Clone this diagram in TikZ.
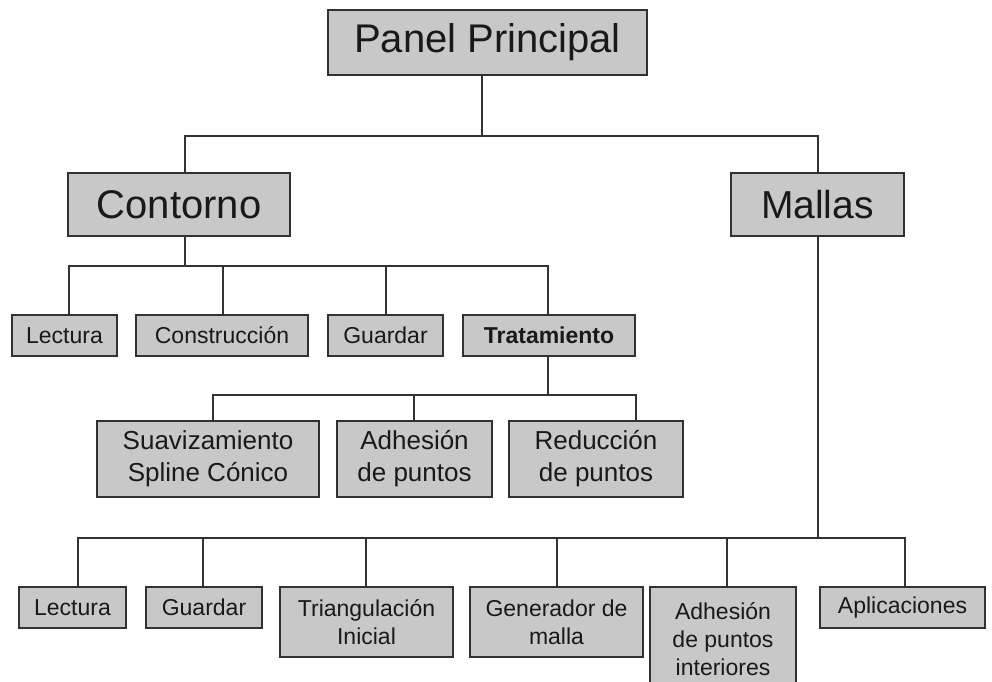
\documentclass[tikz,border=0pt]{standalone}
\usepackage{fontspec}
\setmainfont{Liberation Sans}
\definecolor{boxfill}{RGB}{200,200,200}
\definecolor{boxline}{RGB}{50,50,50}
\definecolor{txt}{RGB}{25,25,25}
\begin{document}
\begin{tikzpicture}[x=1pt,y=-1pt,
  box/.style={draw=boxline,fill=boxfill,line width=1.6pt,inner sep=0pt,align=center,text=txt},
  big/.style={box,font=\fontsize{40}{46}\selectfont},
  small/.style={box,minimum height=41pt,font=\fontsize{23}{28}\selectfont},
  mid/.style={box,minimum height=76pt,font=\fontsize{26}{32}\selectfont},
  low/.style={box,font=\fontsize{23}{28}\selectfont},
  conn/.style={draw=boxline,line width=1.6pt}]
\useasboundingbox (0,0) rectangle (992,681);
% top level
\node[big,minimum width=319pt,minimum height=65pt] (pp) at (487.5,42.5) {Panel Principal};
\node[big,minimum width=222pt,minimum height=63pt] (contorno) at (179,204.5) {Contorno};
\node[big,minimum width=173pt,minimum height=63pt,font=\fontsize{39}{46}\selectfont] (mallas) at (817.5,204.5) {Mallas};
% contorno children
\node[small,minimum width=105pt] (lect1) at (64.5,335.5) {Lectura};
\node[small,minimum width=172pt] (constr) at (222,335.5) {Construcción};
\node[small,minimum width=115pt] (guard1) at (385.5,335.5) {Guardar};
\node[small,minimum width=172pt,font=\fontsize{23}{28}\selectfont\bfseries] (trat) at (549,335.5) {Tratamiento};
% tratamiento children
\node[mid,minimum width=222pt] (suav) at (208,459) {Suavizamiento\\Spline Cónico};
\node[mid,minimum width=155pt] (adh) at (414.5,459) {Adhesión\\de puntos};
\node[mid,minimum width=174pt] (red) at (596,459) {Reducción\\de puntos};
% mallas children
\node[low,minimum width=107pt,minimum height=41pt] (lect2) at (72.5,607.5) {Lectura};
\node[low,minimum width=116pt,minimum height=41pt] (guard2) at (204,607.5) {Guardar};
\node[low,minimum width=173pt,minimum height=70pt] (triang) at (366.5,622) {Triangulación\\Inicial};
\node[low,minimum width=173pt,minimum height=70pt] (gener) at (556.5,622) {Generador de\\malla};
\node[low,minimum width=146pt,minimum height=105pt] (adhint) at (723,639.5) {Adhesión\\de puntos\\interiores};
\node[low,minimum width=165pt,minimum height=41pt] (aplic) at (902.5,607.5) {Aplicaciones};
% bus levels
\coordinate (bus1) at (0,136);
\coordinate (bus2) at (0,266);
\coordinate (bus3) at (0,395);
\coordinate (bus4) at (0,538);
% connectors level 1
\draw[conn] ([xshift=-5.5pt]pp.south) -- ([xshift=-5.5pt]pp.south |- bus1);
\draw[conn] ([xshift=6pt]contorno.north) |- ([xshift=0.5pt]mallas.north |- bus1) -- ([xshift=0.5pt]mallas.north);
% contorno
\draw[conn] ([xshift=6pt]contorno.south) -- ([xshift=6pt]contorno.south |- bus2);
\draw[conn] ([xshift=4.5pt]lect1.north) |- ([xshift=-1pt]trat.north |- bus2) -- ([xshift=-1pt]trat.north);
\draw[conn] ([xshift=1pt]constr.north) -- ([xshift=1pt]constr.north |- bus2);
\draw[conn] ([xshift=0.5pt]guard1.north) -- ([xshift=0.5pt]guard1.north |- bus2);
% tratamiento
\draw[conn] ([xshift=-1pt]trat.south) -- ([xshift=-1pt]trat.south |- bus3);
\draw[conn] ([xshift=5pt]suav.north) |- ([xshift=40pt]red.north |- bus3) -- ([xshift=40pt]red.north);
\draw[conn] ([xshift=-0.5pt]adh.north) -- ([xshift=-0.5pt]adh.north |- bus3);
% mallas
\draw[conn] ([xshift=0.5pt]mallas.south) -- ([xshift=0.5pt]mallas.south |- bus4);
\draw[conn] ([xshift=5.5pt]lect2.north) |- ([xshift=2.5pt]aplic.north |- bus4) -- ([xshift=2.5pt]aplic.north);
\draw[conn] ([xshift=-1pt]guard2.north) -- ([xshift=-1pt]guard2.north |- bus4);
\draw[conn] ([xshift=-0.5pt]triang.north) -- ([xshift=-0.5pt]triang.north |- bus4);
\draw[conn] ([xshift=0.5pt]gener.north) -- ([xshift=0.5pt]gener.north |- bus4);
\draw[conn] ([xshift=4pt]adhint.north) -- ([xshift=4pt]adhint.north |- bus4);
\end{tikzpicture}
\end{document}
